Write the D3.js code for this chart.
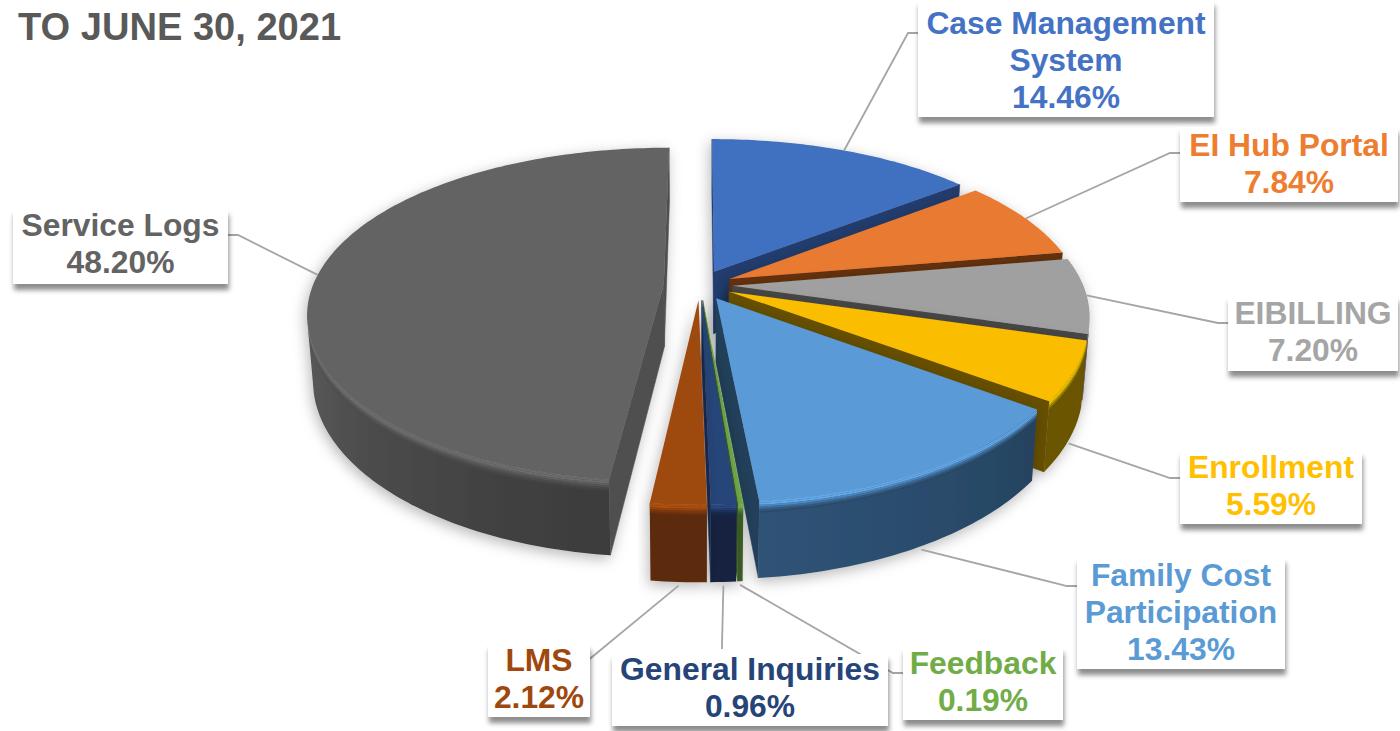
<!DOCTYPE html>
<html>
<head>
<meta charset="utf-8">
<script src="https://cdn.jsdelivr.net/npm/d3@7"></script>
<style>
    html, body { margin: 0; padding: 0; background: #fff; overflow: hidden; }
    text { font-family: "Liberation Sans", Arial, sans-serif; font-weight: bold; }
</style>
</head>
<body>
<div id="chart"></div>
<script>
// values
const categories = ["Case Management System", "EI Hub Portal", "EIBILLING", "Enrollment",
    "Family Cost Participation", "Feedback", "General Inquiries", "LMS", "Service Logs"];
const shares = [14.46, 7.84, 7.20, 5.59, 13.43, 0.19, 0.96, 2.12, 48.20];
const labelLines = [["Case Management", "System"], ["EI Hub Portal"], ["EIBILLING"], ["Enrollment"],
    ["Family Cost", "Participation"], ["Feedback"], ["General Inquiries"], ["LMS"], ["Service Logs"]];

const topColors = ["#4170c0", "#e97a30", "#a0a0a0", "#fbbd00", "#5a9ad6", "#70ad47", "#264478", "#9e480e", "#636363"];
// outer wall colour at the front and at the sides, flat colour of the cut walls
const wallFront = ["#233c6e", "#653010", "#474747", "#665000", "#2e5275", "#3d5f27", "#14233f", "#5c2a08", "#3d3d3d"];
const wallSide = ["#2a4a85", "#7a3a14", "#5a5a5a", "#6e5600", "#203a52", "#47702e", "#1a2c50", "#6a300a", "#5a5a5a"];
const cutColors = ["#233c6e", "#653010", "#474747", "#665000", "#24405a", "#3d5f27", "#1a2c50", "#5c2a08", "#505050"];
const textColors = ["#4472c4", "#ed7d31", "#a5a5a5", "#ffc000", "#5b9bd5", "#70ad47", "#264478", "#9e480e", "#636363"];

// label boxes, leader elbow, first text line centre, whether leader starts at wall bottom
const labelBoxes = [
    {x: 918, y: 0, w: 296, h: 117, textY: 23, elbow: [908, 33], side: [918, 33], low: false},
    {x: 1180, y: 127, w: 218, h: 75, textY: 145, elbow: [1170, 153], side: [1180, 153], low: false},
    {x: 1228, y: 296, w: 170, h: 75, textY: 313, elbow: [1218, 323], side: [1228, 323], low: false},
    {x: 1180, y: 451, w: 182, h: 73, textY: 467, elbow: [1170, 478], side: [1180, 478], low: true},
    {x: 1077, y: 557, w: 208, h: 112, textY: 575, elbow: [1067, 586], side: [1077, 586], low: true},
    {x: 903, y: 647, w: 160, h: 73, textY: 663, elbow: [893, 673], side: [903, 673], low: true},
    {x: 612, y: 654, w: 276, h: 72, textY: 669, elbow: [722, 645], side: [722, 649], low: true},
    {x: 488, y: 644, w: 102, h: 73, textY: 660, elbow: [575, 671], side: [565, 671], low: true},
    {x: 13, y: 209, w: 215, h: 75, textY: 225, elbow: [238, 235], side: [228, 235], low: false}
];

function init() {
    const w = 1400;
    const h = 731;

    // pie geometry: tilted disc with a simple perspective
    const cx = 700, cy = 285;
    const R = 358;        // disc radius
    const tilt = 0.458;   // vertical squash
    const depth = 63;     // wall height
    const bottomScale = 0.985;

    function project(theta, r, mid, down) {
        // slices are pulled out the same amount, the big left one a bit more
        const explode = Math.sin(mid) < -0.5 ? 37 : 33;
        const px = r * Math.sin(theta) + explode * Math.sin(mid);
        const py = r * Math.cos(theta) + explode * Math.cos(mid);
        const persp = py > 0 ? 0.2 : 0.17;
        const s = 1 / (1 + persp * py / R);
        const squeeze = py > 0 ? 0.98 + 0.025 * py / R : 0.98;
        const shrink = 1 - (1 - bottomScale) * down / depth;
        return [cx + px * s * squeeze * shrink, cy - tilt * py * s + down * s];
    }

    const svg = d3.select("#chart")
        .append("svg")
        .attr("width", w)
        .attr("height", h);

    const defs = svg.append("defs");
    const pieShadow = defs.append("filter").attr("id", "pieShadow")
        .attr("x", "-20%").attr("y", "-20%").attr("width", "140%").attr("height", "140%");
    pieShadow.append("feDropShadow").attr("dx", -2).attr("dy", 4).attr("stdDeviation", 7)
        .attr("flood-color", "#000").attr("flood-opacity", 0.28);
    const boxShadow = defs.append("filter").attr("id", "boxShadow")
        .attr("x", "-10%").attr("y", "-10%").attr("width", "120%").attr("height", "130%");
    boxShadow.append("feDropShadow").attr("dx", 1).attr("dy", 6).attr("stdDeviation", 2.5)
        .attr("flood-color", "#000").attr("flood-opacity", 0.45);

    svg.append("text")
        .attr("x", 18)
        .attr("y", 40)
        .attr("font-size", 38.1)
        .attr("fill", "#595959")
        .text("TO JUNE 30, 2021");

    const pie = d3.pie().value(d => d).sort(null).startAngle(0).endAngle(2 * Math.PI);
    const arcs = pie(shares);
    const line = d3.line();

    arcs.forEach((a, i) => { a.index = i; a.mid = (a.startAngle + a.endAngle) / 2; });

    // far slices first
    const order = arcs.slice().sort((a, b) => Math.cos(b.mid) - Math.cos(a.mid));

    const slices = svg.append("g").selectAll("g")
        .data(order)
        .join("g")
        .attr("filter", "url(#pieShadow)");

    slices.each(function (a) {
        const g = d3.select(this);
        const i = a.index;
        const steps = Math.max(2, Math.ceil((a.endAngle - a.startAngle) / (Math.PI / 180)));
        const thetas = d3.range(steps + 1).map(k => a.startAngle + (a.endAngle - a.startAngle) * k / steps);
        const shade = d3.interpolateRgb(wallFront[i], wallSide[i]);
        const highlight = d3.rgb(topColors[i]).brighter(0.45).formatHex();

        const wall = (theta) => [
            project(theta, 0, a.mid, 0),
            project(theta, R, a.mid, 0),
            project(theta, R, a.mid, depth),
            project(theta, 0, a.mid, depth)
        ];
        // d3.polygonArea sign tells which cut walls turn towards the viewer
        const startWall = wall(a.startAngle);
        const endWall = wall(a.endAngle);
        if (d3.polygonArea(startWall) > 0) {
            g.append("path").attr("d", line(startWall) + "Z")
                .attr("fill", cutColors[i]).attr("stroke", cutColors[i]).attr("stroke-width", 0.5);
        }
        if (d3.polygonArea(endWall) < 0) {
            g.append("path").attr("d", line(endWall) + "Z")
                .attr("fill", cutColors[i]).attr("stroke", cutColors[i]).attr("stroke-width", 0.5);
        }

        // outer wall, only the part of the arc that faces the viewer
        const visible = thetas.filter((t, k) => {
            const next = k < steps ? thetas[k + 1] : t;
            const prev = k < steps ? t : thetas[k - 1];
            return d3.polygonArea([project(prev, R, a.mid, 0), project(next, R, a.mid, 0),
                project(next, R, a.mid, depth), project(prev, R, a.mid, depth)]) > 0;
        });
        if (visible.length > 1) {
            const band = (d0, d1) => visible.map(t => project(t, R, a.mid, d0))
                .concat(visible.slice().reverse().map(t => project(t, R, a.mid, d1)));
            const xs = visible.map(t => project(t, R, a.mid, 0)[0]);
            const x0 = xs[0], x1 = xs[xs.length - 1];
            const grad = defs.append("linearGradient").attr("id", "wall" + i)
                .attr("gradientUnits", "userSpaceOnUse")
                .attr("x1", x0).attr("x2", x1 === x0 ? x0 + 1 : x1).attr("y1", 0).attr("y2", 0);
            visible.forEach((t, k) => {
                if (k % 5 !== 0 && k !== visible.length - 1) return;
                grad.append("stop")
                    .attr("offset", (xs[k] - x0) / ((x1 - x0) || 1))
                    .attr("stop-color", shade(Math.pow(Math.abs(Math.sin(t)), 2)));
            });
            g.append("path").attr("d", line(band(0, depth)) + "Z").attr("fill", "url(#wall" + i + ")");

            // rounded rim: top colour, a lighter line, then the wall
            const midWall = shade(0.5);
            d3.range(6).forEach(b => {
                const rc = b < 2
                    ? d3.interpolateRgb(topColors[i], highlight)((b + 1) / 2)
                    : d3.interpolateRgb(highlight, midWall)((b - 1) / 4);
                g.append("path").attr("d", line(band(b * 1.6, (b + 1) * 1.6)) + "Z")
                    .attr("fill", rc).attr("fill-opacity", 1 - b * 0.12);
            });
        }

        // top face
        const face = [project(a.mid, 0, a.mid, 0)].concat(thetas.map(t => project(t, R, a.mid, 0)));
        g.append("path").attr("d", line(face) + "Z").attr("fill", topColors[i]);
    });

    // leader lines
    const labels = svg.append("g");
    arcs.forEach((a, i) => {
        const box = labelBoxes[i];
        const start = project(a.mid, R, a.mid, box.low ? depth + 3 : 0);
        labels.append("path")
            .attr("d", line([start, box.elbow, box.side]))
            .attr("fill", "none")
            .attr("stroke", "#a5a5a5")
            .attr("stroke-width", 1.8);
    });

    // label boxes
    arcs.forEach((a, i) => {
        const box = labelBoxes[i];
        const g = labels.append("g");
        g.append("rect")
            .attr("x", box.x).attr("y", box.y).attr("width", box.w).attr("height", box.h)
            .attr("fill", "#fff").attr("filter", "url(#boxShadow)");
        const lines = labelLines[i].concat([shares[i].toFixed(2) + "%"]);
        const lineH = 36.6;
        g.selectAll("text")
            .data(lines)
            .join("text")
            .attr("x", box.x + box.w / 2)
            .attr("y", (d, k) => box.textY + k * lineH)
            .attr("dy", "0.36em")
            .attr("text-anchor", "middle")
            .attr("font-size", 31.8)
            .attr("fill", textColors[i])
            .text(d => d);
    });
}

window.onload = init;
</script>
</body>
</html>
